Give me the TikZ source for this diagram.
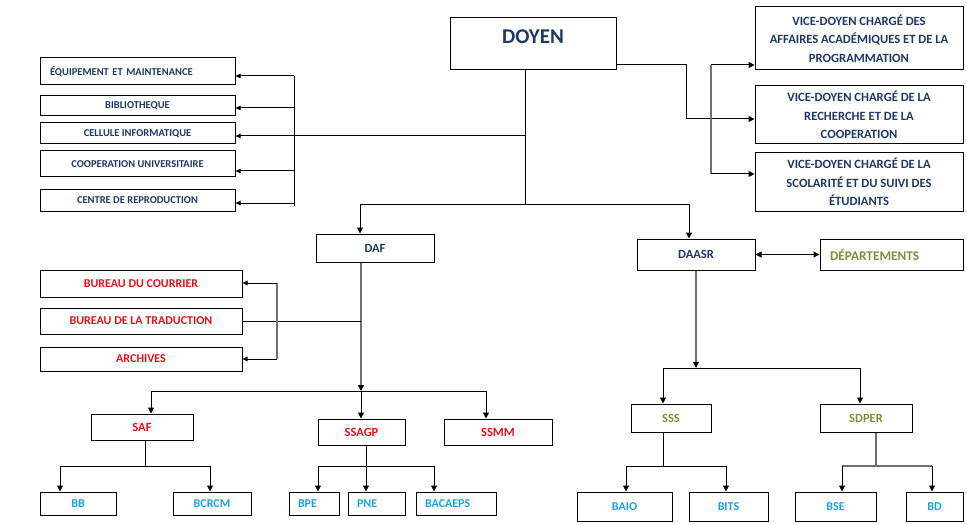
\documentclass[tikz,border=0pt]{standalone}
\usepackage{fontspec}
\setmainfont{Carlito}
\usetikzlibrary{arrows.meta}
\definecolor{navy}{HTML}{1F3864}
\definecolor{redt}{HTML}{E8101A}
\definecolor{olive}{HTML}{76923C}
\definecolor{lblue}{HTML}{1AA3E6}
\definecolor{lgray}{RGB}{112,112,112}
\newcommand\bx[7][]{\node[box,#1,minimum width={#4pt-#2pt},minimum height={#5pt-#3pt}] (#6) at ({(#2+#4)/2},{(#3+#5)/2}) {#7};}
\begin{document}
\begin{tikzpicture}[x=1pt,y=-1pt,
  box/.style={draw=black,line width=1pt,rectangle,inner sep=0pt,fill=white},
  navyf/.style={text=navy,font=\fontsize{12.5}{14}\selectfont\bfseries},
  smallf/.style={text=navy,font=\fontsize{10.5}{12}\selectfont\bfseries},
  vdf/.style={text=navy,align=center,font=\fontsize{12.6}{18.5}\selectfont\bfseries},
  redf/.style={text=redt,font=\fontsize{12}{13}\selectfont\bfseries},
  olivef/.style={text=olive,font=\fontsize{13.3}{14}\selectfont\bfseries},
  bluef/.style={text=lblue,font=\fontsize{12}{14}\selectfont\bfseries},
  ln/.style={draw=black,line width=1pt},
  gln/.style={draw=lgray,line width=1.2pt},
  arr/.style={ln,-{Triangle[length=6pt,width=6pt]}},
  garr/.style={gln,-{Triangle[length=6pt,width=6pt,color=black]}},
  arrs/.style={ln,-{Triangle[length=5pt,width=4.5pt]}},
  darr/.style={ln,{Triangle[length=6pt,width=6pt]}-{Triangle[length=6pt,width=6pt]}}
]
\useasboundingbox[fill=white] (0,0) rectangle (967,524);

% ---------- boxes ----------
\bx[text=navy,font=\fontsize{21}{24}\selectfont\bfseries,text depth=14pt]{450}{18}{616}{70}{doyen}{DOYEN}

\bx[smallf,align=left,inner xsep=10pt,text width=175pt]{40}{58}{235}{85}{equip}{ÉQUIPEMENT ET MAINTENANCE}
\bx[smallf]{40}{96}{235}{116}{biblio}{BIBLIOTHEQUE}
\bx[smallf]{40}{123}{235}{144}{cel}{CELLULE INFORMATIQUE}
\bx[smallf]{40}{151}{235}{177}{coop}{COOPERATION UNIVERSITAIRE}
\bx[smallf]{40}{190}{235}{211}{centre}{CENTRE DE REPRODUCTION}

\bx[vdf]{755}{7}{963}{70}{vda}{VICE-DOYEN CHARGÉ DES\\AFFAIRES ACADÉMIQUES ET DE LA\\PROGRAMMATION}
\bx[vdf]{755}{86}{963}{144}{vdb}{VICE-DOYEN CHARGÉ DE LA\\RECHERCHE ET DE LA\\COOPERATION}
\bx[vdf]{755}{153}{963}{211}{vdc}{VICE-DOYEN CHARGÉ DE LA\\SCOLARITÉ ET DU SUIVI DES\\ÉTUDIANTS}

\bx[navyf]{316}{234}{434}{262}{daf}{DAF}
\bx[navyf]{637}{239}{755}{270}{daasr}{DAASR}
\bx[olivef,align=left,inner xsep=10pt,text width=123pt]{820}{239}{963}{270}{dep}{DÉPARTEMENTS}

\bx[redf]{40}{270}{242}{297}{cour}{BUREAU DU COURRIER}
\bx[redf]{40}{308}{242}{334}{trad}{BUREAU DE LA TRADUCTION}
\bx[redf]{40}{347}{242}{371}{arch}{ARCHIVES}

\bx[redf,font=\fontsize{12.5}{14}\selectfont\bfseries]{91}{414}{193}{440}{saf}{SAF}
\bx[redf,font=\fontsize{12.5}{14}\selectfont\bfseries]{318}{419}{405}{445}{ssagp}{SSAGP}
\bx[redf,font=\fontsize{12.5}{14}\selectfont\bfseries]{444}{419}{552}{445}{ssmm}{SSMM}

\bx[bluef]{40}{492}{116}{515}{bb}{BB}
\bx[bluef]{173}{492}{251}{515}{bcrcm}{BCRCM}
\bx[bluef,align=left,inner xsep=9pt,text width=32pt]{289}{492}{339}{515}{bpe}{BPE}
\bx[bluef,align=left,inner xsep=9pt,text width=39pt]{348}{492}{405}{515}{pne}{PNE}
\bx[bluef,align=left,inner xsep=9pt,text width=62pt]{416}{492}{496}{515}{bac}{BACAEPS}

\bx[olivef,font=\fontsize{12.5}{14}\selectfont\bfseries]{631}{404}{711}{432}{sss}{SSS}
\bx[olivef,font=\fontsize{12.5}{14}\selectfont\bfseries]{820}{404}{912}{432}{sdper}{SDPER}

\bx[bluef]{577}{492}{672}{521}{baio}{BAIO}
\bx[bluef]{689}{492}{768}{521}{bits}{BITS}
\bx[bluef]{795}{492}{876}{521}{bse}{BSE}
\bx[bluef]{906}{492}{963}{521}{bd}{BD}

% ---------- DOYEN trunk ----------
\coordinate (t1) at (525,204);
\draw[ln] (doyen.south -| t1) -- (t1);
\coordinate (bL) at (360,204);
\coordinate (bR) at (689,204);
\draw[ln] (bL) -- (bR);
\draw[arr] (bL) -- (bL |- daf.north);
\draw[arr] (bR) -- (bR |- daasr.north);

% left column
\coordinate (c1) at (525,136);
\draw[arrs] (c1) -- (c1 -| cel.east);
\coordinate (lb1) at (294,76);
\coordinate (lb2) at (294,108);
\coordinate (lb3) at (294,171);
\coordinate (lb4) at (294,203);
\coordinate (lb5) at (294,206);
\draw[ln] (lb1) -- (lb5);
\draw[arrs] (lb1) -- (lb1 -| equip.east);
\draw[arrs] (lb2) -- (lb2 -| biblio.east);
\draw[arrs] (lb3) -- (lb3 -| coop.east);
\draw[arrs] (lb4) -- (lb4 -| centre.east);

% vice-doyens
\coordinate (d1) at (616,65);
\coordinate (d2) at (686,65);
\coordinate (d3) at (686,119);
\draw[arr] (d1) -- (d2) -- (d3) -- (d3 -| vdb.west);
\coordinate (v1) at (711,65);
\coordinate (v2) at (711,174);
\draw[gln] (v1) -- (v2);
\draw[arr] (v1) -- (v1 -| vda.west);
\draw[arr] (v2) -- (v2 -| vdc.west);

% DAF
\coordinate (f1) at (361,391);
\draw[garr] (daf.south -| f1) -- (f1);
\coordinate (tr1) at (361,321);
\draw[ln] (trad.east) -- (tr1);
\coordinate (k1) at (277,283);
\coordinate (k2) at (277,359);
\draw[gln] (k1) -- (k2);
\draw[arrs] (k1) -- (k1 -| cour.east);
\draw[arrs] (k2) -- (k2 -| arch.east);
\coordinate (g1) at (151,391);
\coordinate (g2) at (486,391);
\draw[ln] (g1) -- (g2);
\draw[arr] (g1) -- (g1 |- saf.north);
\draw[arr] (f1) -- (f1 |- ssagp.north);
\draw[arr] (g2) -- (g2 |- ssmm.north);

% SAF
\coordinate (s1) at (145,466);
\coordinate (s2) at (60,466);
\coordinate (s3) at (210,466);
\draw[ln] (saf.south -| s1) -- (s1);
\draw[ln] (s2) -- (s3);
\draw[arr] (s2) -- (s2 |- bb.north);
\draw[arr] (s3) -- (s3 |- bcrcm.north);

% SSAGP
\coordinate (p1) at (366,466);
\coordinate (p2) at (318,466);
\coordinate (p3) at (434,466);
\draw[ln] (ssagp.south -| p1) -- (p1);
\draw[ln] (p2) -- (p3);
\draw[arr] (p2) -- (p2 |- bpe.north);
\draw[arr] (p1) -- (p1 |- pne.north);
\draw[arr] (p3) -- (p3 |- bac.north);

% DAASR
\draw[darr] (daasr.east) -- (dep.west);
\coordinate (a1) at (696,368);
\draw[garr] (daasr.south -| a1) -- (a1);
\coordinate (a2) at (663,368);
\coordinate (a3) at (860,368);
\draw[ln] (a2) -- (a3);
\draw[arr] (a2) -- (a2 |- sss.north);
\draw[arr] (a3) -- (a3 |- sdper.north);

% SSS
\coordinate (q1) at (663,466);
\coordinate (q2) at (626,466);
\coordinate (q3) at (726,466);
\draw[ln] (sss.south -| q1) -- (q1);
\draw[ln] (q2) -- (q3);
\draw[arr] (q2) -- (q2 |- baio.north);
\draw[arr] (q3) -- (q3 |- bits.north);

% SDPER
\coordinate (r1) at (876,466);
\coordinate (r2) at (842,466);
\coordinate (r3) at (932,466);
\draw[gln] (sdper.south -| r1) -- (r1);
\draw[gln] (r2) -- (r3);
\draw[arr] (r2) -- (r2 |- bse.north);
\draw[arr] (r3) -- (r3 |- bd.north);
\end{tikzpicture}
\end{document}
